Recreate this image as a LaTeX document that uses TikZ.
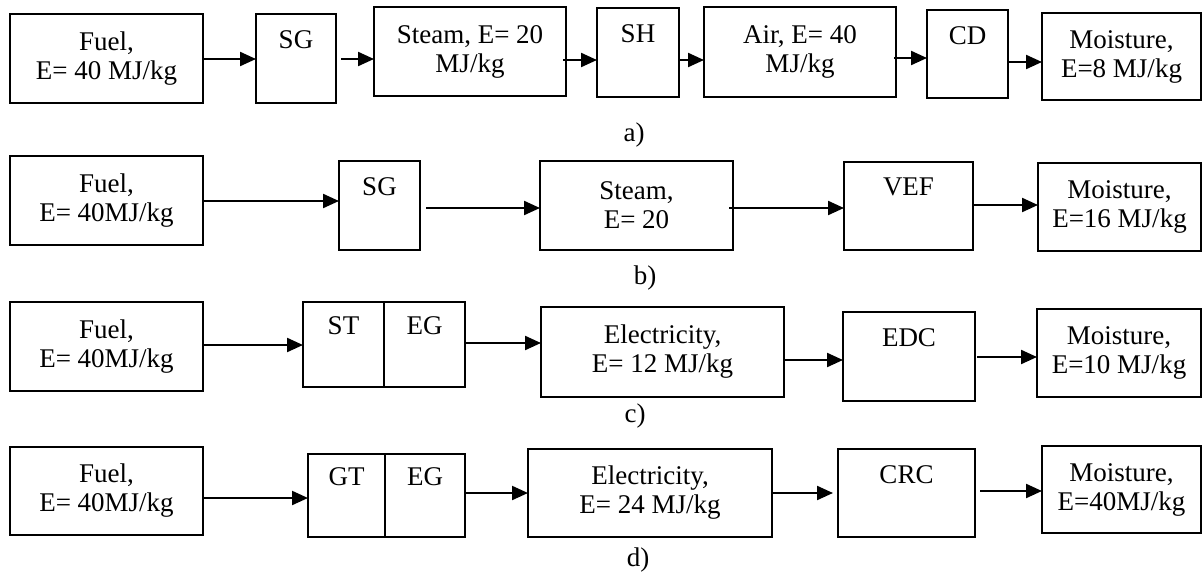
\documentclass[tikz,border=0pt]{standalone}
\usepackage{fontspec}
\setmainfont{Liberation Serif}
\usetikzlibrary{arrows.meta,calc}
\tikzset{
  txt/.style={font=\fontsize{27}{29}\selectfont, align=center},
  box/.style={txt, draw, line width=2.2pt, inner sep=0pt, outer sep=0pt, rectangle},
  arr/.style={line width=2.2pt, -{Triangle[length=16pt,width=14pt]}},
  lbl/.style={font=\fontsize{27}{29}\selectfont, inner sep=0pt}
}
\begin{document}
\begin{tikzpicture}[x=1pt,y=-1pt]
\useasboundingbox (0,0) rectangle (1203,576);
% row a
\node[box, minimum width=193pt, minimum height=89pt] (a1) at (106.5,58.5) {Fuel,\\E= 40 MJ/kg};
\node[box, minimum width=80pt, minimum height=89pt] (a2) at (296,58.5) {SG\\\strut};
\node[box, minimum width=192pt, minimum height=89pt] (a3) at (470,51.5) {Steam, E= 20\\MJ/kg};
\node[box, minimum width=82pt, minimum height=89pt] (a4) at (638,52.5) {SH\\\strut};
\node[box, minimum width=192pt, minimum height=90pt] (a5) at (800,52) {Air, E= 40\\MJ/kg};
\node[box, minimum width=81pt, minimum height=88pt] (a6) at (967.5,54) {CD\\\strut};
\node[box, minimum width=159pt, minimum height=87pt] (a7) at (1121.5,56.5) {Moisture,\\E=8 MJ/kg};
\node[lbl] (la) at (634,135) {a)};
\draw[arr] ($(a1.east)+(0,0.5)$) coordinate (s1) -- (s1 -| a2.west);
\draw[arr, shorten <=5pt] ($(a2.east)+(0,0.5)$) coordinate (s2) -- (s2 -| a3.west);
\draw[arr, shorten <=-3pt] ($(a3.east)+(0,8.5)$) coordinate (s3) -- (s3 -| a4.west);
\draw[arr] ($(a4.east)+(0,7.5)$) coordinate (s4) -- (s4 -| a5.west);
\draw[arr, shorten <=-2pt] ($(a5.east)+(0,6)$) coordinate (s5) -- (s5 -| a6.west);
\draw[arr] ($(a6.east)+(0,8)$) coordinate (s6) -- (s6 -| a7.west);
% row b
\node[box, minimum width=193pt, minimum height=89pt] (b1) at (106.5,200.5) {Fuel,\\E= 40MJ/kg};
\node[box, minimum width=81pt, minimum height=89pt] (b2) at (379.5,205.5) {SG\\\strut};
\node[box, minimum width=193pt, minimum height=89pt] (b3) at (636.5,205.5) {Steam,\\E= 20};
\node[box, minimum width=129pt, minimum height=88pt] (b4) at (908.5,206) {VEF\\\strut};
\node[box, minimum width=163pt, minimum height=88pt] (b5) at (1119.5,207) {Moisture,\\E=16 MJ/kg};
\node[lbl] (lb) at (645,278) {b)};
\draw[arr] ($(b1.east)+(0,0.5)$) coordinate (t1) -- (t1 -| b2.west);
\draw[arr, shorten <=6pt] ($(b2.east)+(0,2.5)$) coordinate (t2) -- (t2 -| b3.west);
\draw[arr, shorten <=-4pt] ($(b3.east)+(0,2.5)$) coordinate (t3) -- (t3 -| b4.west);
\draw[arr] ($(b4.east)+(0,-1)$) coordinate (t4) -- (t4 -| b5.west);
% row c
\node[box, minimum width=193pt, minimum height=89pt] (c1) at (106.5,346.5) {Fuel,\\E= 40MJ/kg};
\node[box, minimum width=81pt, minimum height=85pt] (c2a) at (343.5,344.5) {ST\\\strut};
\node[box, minimum width=81pt, minimum height=85pt] (c2b) at (424.5,344.5) {EG\\\strut};
\node[box, minimum width=243pt, minimum height=90pt] (c3) at (662.5,352) {Electricity,\\E= 12 MJ/kg};
\node[box, minimum width=132pt, minimum height=89pt] (c4) at (909,356.5) {EDC\\\strut};
\node[box, minimum width=164pt, minimum height=88pt] (c5) at (1119,353) {Moisture,\\E=10 MJ/kg};
\node[lbl] (lc) at (635,416) {c)};
\draw[arr] ($(c1.east)+(0,-1.5)$) coordinate (u1) -- (u1 -| c2a.west);
\draw[arr] ($(c2b.east)+(0,-1.5)$) coordinate (u2) -- (u2 -| c3.west);
\draw[arr] ($(c3.east)+(0,8)$) coordinate (u3) -- (u3 -| c4.west);
\draw[arr, shorten <=2pt] ($(c4.east)+(0,0.5)$) coordinate (u4) -- (u4 -| c5.west);
% row d
\node[box, minimum width=193pt, minimum height=88pt] (d1) at (106.5,491) {Fuel,\\E= 40MJ/kg};
\node[box, minimum width=77pt, minimum height=83pt] (d2a) at (346.5,495.5) {GT\\\strut};
\node[box, minimum width=80pt, minimum height=83pt] (d2b) at (425,495.5) {EG\\\strut};
\node[box, minimum width=244pt, minimum height=88pt] (d3) at (650,493) {Electricity,\\E= 24 MJ/kg};
\node[box, minimum width=137pt, minimum height=88pt] (d4) at (906.5,493) {CRC\\\strut};
\node[box, minimum width=159pt, minimum height=87pt] (d5) at (1121.5,489.5) {Moisture,\\E=40MJ/kg};
\node[lbl] (ld) at (638,560) {d)};
\draw[arr] ($(d1.east)+(0,7)$) coordinate (v1) -- (v1 -| d2a.west);
\draw[arr] ($(d2b.east)+(0,-2.5)$) coordinate (v2) -- (v2 -| d3.west);
\draw[arr, shorten >=5pt] ($(d3.east)+(0,0)$) coordinate (v3) -- (v3 -| d4.west);
\draw[arr, shorten <=5pt] ($(d4.east)+(0,-2)$) coordinate (v4) -- (v4 -| d5.west);
\end{tikzpicture}
\end{document}
